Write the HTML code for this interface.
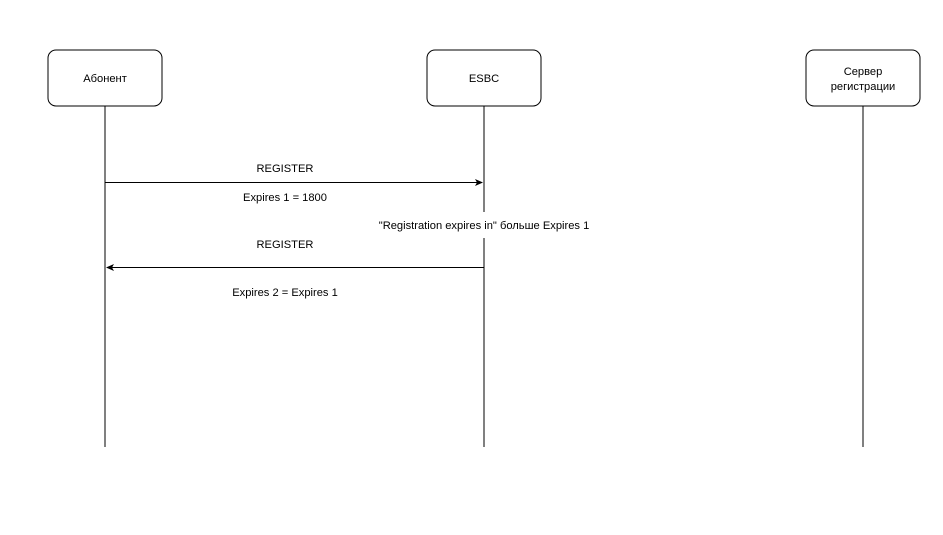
<!DOCTYPE html>
<html><head><meta charset="utf-8"><style>
html,body{margin:0;padding:0;background:#fff;}
body{width:943px;height:535px;position:relative;overflow:hidden;font-family:"Liberation Sans",sans-serif;}
</style></head><body>
<svg width="943" height="535" xmlns="http://www.w3.org/2000/svg" style="position:absolute;left:0;top:0">
<defs><marker id="a" markerWidth="8" markerHeight="8" refX="7" refY="4" orient="auto" markerUnits="userSpaceOnUse"><path d="M0,0.5 L8,4 L0,7.5 L2,4 Z" fill="#000"/></marker></defs>
<g fill="#fff" stroke="#000" stroke-width="1">
<rect x="48" y="50" width="114" height="56" rx="8"/>
<rect x="427" y="50" width="114" height="56" rx="8"/>
<rect x="806" y="50" width="114" height="56" rx="8"/>
</g>
<g stroke="#000" stroke-width="1">
<line x1="105" y1="106" x2="105" y2="447"/>
<line x1="484" y1="106" x2="484" y2="212"/>
<line x1="484" y1="238" x2="484" y2="447"/>
<line x1="863" y1="106" x2="863" y2="447"/>
<line x1="105" y1="182.5" x2="482" y2="182.5" marker-end="url(#a)"/>
<line x1="484" y1="267.5" x2="107" y2="267.5" marker-end="url(#a)"/>
</g>
<g font-family="Liberation Sans, sans-serif" font-size="11.15" fill="#000" text-anchor="middle">
<text x="105" y="82">Абонент</text>
<text x="484" y="82">ESBC</text>
<text x="863" y="75">Сервер</text>
<text x="863" y="90">регистрации</text>
<text x="285" y="172">REGISTER</text>
<text x="285" y="201">Expires 1 = 1800</text>
<text x="484" y="229">"Registration expires in" больше Expires 1</text>
<text x="285" y="248">REGISTER</text>
<text x="285" y="296">Expires 2 = Expires 1</text>
</g>
</svg>
</body></html>
